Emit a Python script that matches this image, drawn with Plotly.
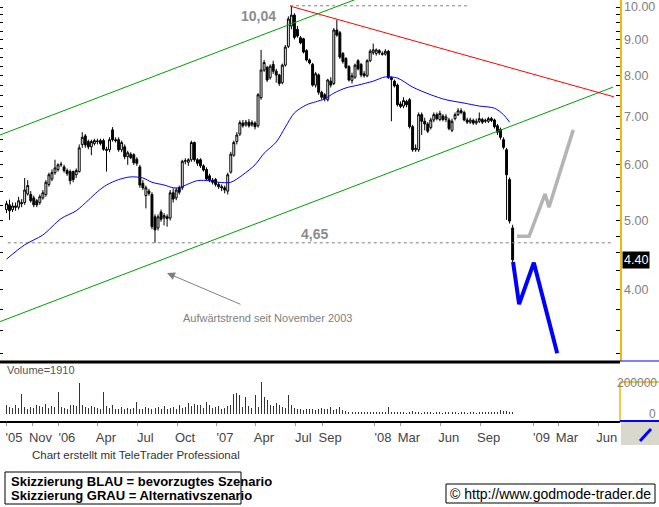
import math
import pandas as pd
import plotly.graph_objects as go

# ---------------- data ----------------
start_week = "2005-09-02"
n_weeks = 168

open_ = [5.18,5.26,5.18,5.24,5.22,5.30,5.30,5.45,5.44,5.38,
         5.33,5.30,5.38,5.44,5.62,5.72,5.84,5.90,5.99,5.95,
         5.88,5.86,5.86,5.80,5.86,6.40,6.58,6.46,6.35,6.42,
         6.46,6.48,6.48,6.30,6.29,6.71,6.50,6.50,6.29,6.35,
         6.15,6.20,6.19,6.10,5.95,5.64,5.42,5.50,5.44,5.06,
         4.88,5.14,5.04,5.06,5.04,5.47,5.38,5.56,5.56,6.06,
         6.04,6.09,6.44,6.09,6.09,5.97,5.90,5.78,5.70,5.71,
         5.62,5.58,5.56,5.50,5.85,6.18,6.46,6.62,6.86,6.82,
         6.88,6.82,6.86,6.80,7.45,8.15,8.22,7.95,8.30,8.12,
         8.02,7.82,8.28,8.80,9.40,9.74,9.30,9.05,9.02,8.68,
         8.42,8.30,7.76,8.02,7.58,7.52,7.40,7.86,7.80,9.28,
         9.20,8.60,8.46,8.24,7.88,7.96,8.40,8.30,8.05,8.00,
         8.40,8.62,8.60,8.68,8.60,8.58,8.66,7.95,7.86,7.76,
         7.30,7.25,7.36,7.40,6.78,6.29,6.29,7.05,6.90,6.84,
         6.76,6.93,7.05,6.94,7.02,6.94,6.93,6.70,6.96,7.05,
         7.14,7.10,6.93,6.88,6.92,6.86,6.90,6.94,6.90,6.90,
         6.96,6.93,6.80,6.72,6.50,6.29,5.71,4.88]
high = [5.33,5.35,5.30,5.30,5.40,5.36,5.74,5.70,5.50,5.42,
        5.36,5.44,5.52,5.70,5.84,5.90,6.09,6.02,6.05,5.99,
        5.92,5.90,5.88,5.92,6.40,6.66,6.62,6.50,6.50,6.52,
        6.52,6.52,6.52,6.35,6.55,6.77,6.55,6.55,6.48,6.40,
        6.27,6.24,6.22,6.14,5.99,5.70,5.60,5.54,5.48,5.10,
        5.10,5.18,5.12,5.10,5.52,5.55,5.56,5.60,6.09,6.12,
        6.12,6.48,6.46,6.12,6.12,6.00,5.94,5.82,5.74,5.74,
        5.66,5.62,5.60,5.84,6.25,6.48,6.66,6.92,6.93,6.93,
        6.95,6.92,6.90,7.56,8.70,8.42,8.26,8.30,8.40,8.18,
        8.05,8.32,8.84,9.70,10.04,9.80,9.40,9.10,9.05,8.72,
        8.46,8.34,8.10,8.06,7.62,7.56,7.92,7.96,9.34,9.59,
        9.25,8.64,8.50,8.28,8.08,8.32,8.44,8.34,8.12,8.44,
        8.72,8.88,8.74,8.72,8.66,8.72,8.70,7.98,7.90,7.80,
        7.36,7.46,7.40,7.44,6.82,6.40,7.10,7.10,6.98,6.88,
        6.98,7.10,7.10,7.14,7.06,7.06,6.98,6.96,7.10,7.20,
        7.20,7.14,6.98,6.98,6.96,6.96,7.10,6.98,6.96,7.00,
        7.00,6.96,6.84,6.76,6.55,6.33,5.75,4.93]
low = [5.12,5.01,5.14,5.16,5.18,5.22,5.26,5.42,5.30,5.22,
       5.22,5.26,5.35,5.40,5.58,5.68,5.80,5.86,5.95,5.84,
       5.78,5.62,5.66,5.74,5.84,6.33,6.33,6.30,6.18,6.38,
       6.40,6.38,6.27,5.86,6.24,6.46,6.44,6.25,6.24,6.10,
       5.99,6.10,5.99,5.97,5.56,5.52,5.20,5.42,4.86,4.65,
       4.84,4.98,4.92,4.90,5.00,5.30,5.34,5.44,5.52,6.00,
       5.97,6.05,6.05,5.97,5.93,5.86,5.70,5.66,5.62,5.58,
       5.54,5.50,5.46,5.44,5.82,6.15,6.40,6.58,6.76,6.78,
       6.76,6.78,6.72,6.76,7.40,8.10,7.84,7.90,8.05,7.82,
       7.74,7.78,8.24,8.75,9.30,9.00,9.05,8.86,8.60,8.38,
       8.30,7.72,7.70,7.52,7.40,7.36,7.36,7.70,7.76,9.08,
       8.45,8.32,8.18,7.85,7.80,7.92,8.14,7.96,7.95,7.96,
       8.36,8.56,8.54,8.56,8.54,8.54,7.92,6.90,7.70,7.24,
       7.20,7.20,7.22,6.74,6.25,6.25,6.25,6.60,6.70,6.64,
       6.72,6.88,6.92,6.90,6.90,6.88,6.70,6.66,6.92,7.02,
       7.06,6.90,6.84,6.84,6.82,6.82,6.86,6.84,6.86,6.86,
       6.88,6.74,6.60,6.50,6.30,5.01,4.95,4.26]
close = [5.28,5.16,5.24,5.22,5.33,5.28,5.52,5.60,5.33,5.26,
         5.26,5.40,5.47,5.66,5.80,5.84,5.93,5.99,6.00,5.88,
         5.82,5.69,5.71,5.88,6.33,6.55,6.39,6.35,6.46,6.48,
         6.47,6.42,6.30,6.28,6.50,6.50,6.48,6.29,6.44,6.15,
         6.23,6.13,6.03,6.02,5.61,5.56,5.56,5.46,4.90,4.85,
         5.06,5.02,5.08,5.03,5.47,5.36,5.52,5.48,6.06,6.07,
         6.09,6.44,6.09,6.02,5.97,5.89,5.72,5.70,5.66,5.62,
         5.58,5.56,5.52,5.80,6.20,6.44,6.60,6.87,6.80,6.88,
         6.80,6.87,6.78,7.52,8.15,8.35,7.89,8.25,8.12,8.02,
         7.80,8.28,8.78,9.62,9.74,9.06,9.10,8.90,8.64,8.42,
         8.34,7.76,8.05,7.58,7.46,7.42,7.89,7.76,9.28,9.13,
         8.50,8.38,8.22,7.89,8.00,8.28,8.18,8.02,8.00,8.40,
         8.66,8.70,8.70,8.62,8.58,8.66,7.95,7.90,7.74,7.28,
         7.24,7.38,7.28,6.78,6.29,6.32,7.05,6.90,6.84,6.68,
         6.93,7.05,6.96,7.08,6.94,7.00,6.74,6.90,7.05,7.14,
         7.10,6.93,6.88,6.93,6.86,6.90,6.96,6.88,6.92,6.96,
         6.92,6.78,6.66,6.55,6.34,5.80,4.99,4.40]
volume_k = [60,45,40,55,40,130,45,35,45,40,
            55,50,45,65,40,50,45,140,45,40,
            35,55,60,50,200,60,45,40,50,45,
            40,35,145,50,40,55,30,35,45,30,
            40,35,40,75,35,30,45,40,35,40,
            45,35,50,30,40,45,35,60,40,45,
            70,50,65,55,60,40,75,55,40,45,
            50,30,40,50,60,130,135,125,45,110,
            50,40,120,45,205,110,90,55,50,70,
            60,45,40,120,60,40,30,35,25,30,
            30,35,25,30,40,30,35,45,25,30,
            45,25,20,15,12,15,10,12,10,15,
            12,10,15,10,12,10,45,12,10,12,
            10,15,8,12,20,10,12,8,10,10,
            12,8,15,10,8,12,10,15,10,8,
            10,12,8,10,12,8,10,12,10,15,
            12,10,15,25,20,18,15,10]

# moving average (read at selected weeks)
ma_week = [0,6,12,18,23,27,30,33,37,41,45,48,52,55,57,60,63,67,70,74,
           78,82,85,89,92,95,99,102,105,108,112,116,121,125,129,134,140,145,151,156,
           161,164,166]
ma_value = [4.41,4.62,4.77,5.03,5.16,5.34,5.49,5.61,5.71,5.76,5.74,5.66,5.61,5.56,5.56,5.63,5.69,5.69,5.66,5.66,
            5.80,5.99,6.22,6.45,6.77,7.09,7.28,7.35,7.42,7.56,7.69,7.76,7.86,7.97,7.94,7.71,7.52,7.40,7.32,7.25,
            7.20,7.05,6.88]

# trend lines
upper_channel_dates = ["2005-08-18", "2008-01-01"]
upper_channel_price = [6.60, 10.50]
lower_channel_dates = ["2005-08-18", "2009-07-04"]
lower_channel_price = [3.60, 7.71]
red_line_dates = ["2007-06-19", "2009-07-06"]
red_line_price = [10.03, 7.47]

peak_level = 10.04
peak_dates = ["2007-06-19", "2008-08-08"]
support_level = 4.65
support_dates = ["2005-09-05", "2009-07-04"]

# scenarios
blue_dates = ["2008-11-15", "2008-11-29", "2009-01-02", "2009-02-25"]
blue_price = [4.37, 3.81, 4.36, 3.25]
grey_dates = ["2008-11-24", "2008-12-22", "2009-01-28", "2009-02-06", "2009-04-03"]
grey_price = [4.75, 4.75, 5.45, 5.22, 6.71]

last_price = 4.40
volume_label = "Volume=1910"

x_tick_dates = ["2005-09-01","2005-11-01","2006-01-01","2006-04-01","2006-07-01","2006-10-01",
                "2007-01-01","2007-04-01","2007-07-01","2007-09-01","2008-01-01","2008-03-01",
                "2008-06-01","2008-09-01","2009-01-01","2009-03-01","2009-06-01"]
x_tick_text = ["'05","Nov","'06","Apr","Jul","Oct","'07","Apr","Jul","Sep","'08","Mar",
               "Jun","Sep","'09","Mar","Jun"]

price_ticks = [3.25 + 0.25 * k for k in range(28)]
price_tick_text = [f"{v:.2f}" if abs(v - round(v)) < 1e-9 else "" for v in price_ticks]

# ---------------- figure ----------------
dates = pd.date_range(start_week, periods=n_weeks, freq="7D")
volume = [v * 1000 for v in volume_k]
ma_dates = [dates[i] for i in ma_week]

X_RANGE = ["2005-08-18", "2009-07-20"]
Y_RANGE = [math.log10(3.168), math.log10(10.23)]

fig = go.Figure()

fig.add_trace(go.Candlestick(
    x=dates, open=open_, high=high, low=low, close=close,
    increasing=dict(line=dict(color="black", width=1), fillcolor="white"),
    decreasing=dict(line=dict(color="black", width=1), fillcolor="black"),
    whiskerwidth=0, xaxis="x", yaxis="y", hoverinfo="skip", showlegend=False))

line_specs = [
    (upper_channel_dates, upper_channel_price, dict(color="#00a000", width=1)),
    (lower_channel_dates, lower_channel_price, dict(color="#00a000", width=1)),
    (red_line_dates, red_line_price, dict(color="#ff0000", width=1)),
    (peak_dates, [peak_level, peak_level], dict(color="#808080", width=1, dash="dot")),
    (support_dates, [support_level, support_level], dict(color="#808080", width=1, dash="dot")),
]
for xs, ys, ln in line_specs:
    fig.add_trace(go.Scatter(x=xs, y=ys, mode="lines", line=ln, xaxis="x", yaxis="y",
                             hoverinfo="skip", showlegend=False))

fig.add_trace(go.Scatter(x=ma_dates, y=ma_value, mode="lines",
                         line=dict(color="#0000ff", width=1, shape="spline", smoothing=0.8),
                         xaxis="x", yaxis="y", hoverinfo="skip", showlegend=False))

fig.add_trace(go.Scatter(x=grey_dates, y=grey_price, mode="lines",
                         line=dict(color="#b4b4b4", width=3.5),
                         xaxis="x", yaxis="y", hoverinfo="skip", showlegend=False))
fig.add_trace(go.Scatter(x=blue_dates, y=blue_price, mode="lines",
                         line=dict(color="#0000ff", width=4),
                         xaxis="x", yaxis="y", hoverinfo="skip", showlegend=False))

# left-side tick axis (empty trace)
fig.add_trace(go.Scatter(x=[], y=[], xaxis="x", yaxis="y3", showlegend=False))

fig.add_trace(go.Bar(x=dates, y=volume, width=2.3 * 86400000,
                     marker=dict(color="#333333", line=dict(width=0)),
                     xaxis="x2", yaxis="y2", hoverinfo="skip", showlegend=False))

W, H = 659, 507
PW = 620.0
PH = 421.0


def px(xp):
    return xp / PW


def py(yp):
    return (PH - yp) / PH


narrow = "Liberation Sans Narrow, Arial Narrow, sans-serif"
sans = "Liberation Sans, Arial, sans-serif"

fig.update_layout(
    width=W, height=H,
    margin=dict(l=0, r=W - PW, t=0, b=H - PH),
    paper_bgcolor="white", plot_bgcolor="white",
    showlegend=False, hovermode=False, bargap=0, boxgap=0.1,
    xaxis=dict(domain=[0, 1], anchor="y", type="date", range=X_RANGE,
               showticklabels=False, showgrid=False, zeroline=False,
               rangeslider=dict(visible=False), ticks=""),
    xaxis2=dict(domain=[0, 1], anchor="y2", type="date", range=X_RANGE,
                tickmode="array", tickvals=x_tick_dates, ticktext=x_tick_text,
                ticks="outside", ticklen=3, tickcolor="#999999",
                showline=True, linecolor="black", linewidth=2,
                showgrid=False, zeroline=False, ticklabelshift=8,
                tickfont=dict(family=narrow, size=13, color="#444444")),
    yaxis=dict(domain=[py(361), 1], anchor="x", type="log", range=Y_RANGE,
               side="right", tickmode="array", tickvals=price_ticks, ticktext=price_tick_text,
               ticks="inside", ticklen=4, tickcolor="black",
               showline=True, linecolor="#f5b800", linewidth=1.5,
               showgrid=False, zeroline=False,
               tickfont=dict(family=sans, size=12.5, color="#808080")),
    yaxis3=dict(overlaying="y", anchor="x", side="left", type="log", range=Y_RANGE,
                tickmode="array", tickvals=price_ticks, showticklabels=False,
                ticks="inside", ticklen=3, tickcolor="black",
                showline=False, showgrid=False, zeroline=False),
    yaxis2=dict(domain=[0, py(376)], anchor="x2", range=[-45000, 245000],
                side="right", showticklabels=False, showgrid=False, zeroline=False,
                ticks=""),
)

shapes = [
    dict(type="line", xref="paper", yref="paper", x0=0, x1=1, y0=py(362), y1=py(362),
         line=dict(color="black", width=3)),
    dict(type="line", xref="paper", yref="paper", x0=1, x1=px(659), y0=py(361), y1=py(361),
         line=dict(color="#0000ff", width=1)),
    dict(type="line", xref="paper", yref="paper", x0=1, x1=1, y0=py(421), y1=py(382),
         line=dict(color="#f5b800", width=1.5)),
    dict(type="line", xref="paper", yref="paper", x0=1, x1=px(659), y0=py(382), y1=py(382),
         line=dict(color="#f5b800", width=1.5)),
    dict(type="line", xref="paper", yref="paper", x0=1, x1=px(659), y0=py(421), y1=py(421),
         line=dict(color="#0000ff", width=2)),
    dict(type="rect", xref="paper", yref="paper", x0=px(621), x1=px(659), y0=py(445), y1=py(422),
         fillcolor="#d8d8cc", line=dict(width=0)),
    dict(type="line", xref="paper", yref="paper", x0=px(640), x1=px(651), y0=py(441), y1=py(429),
         line=dict(color="#0000ff", width=3)),
    dict(type="rect", xref="paper", yref="paper", x0=px(5), x1=px(241), y0=py(504), y1=py(472),
         line=dict(color="black", width=1)),
    dict(type="rect", xref="paper", yref="paper", x0=px(446), x1=px(655), y0=py(503), y1=py(484),
         line=dict(color="black", width=1)),
]
fig.update_layout(shapes=shapes)


def note(text, x, y, xanchor="center", font=None, **kw):
    d = dict(text=text, xref="paper", yref="paper", x=x, y=y, xanchor=xanchor,
             yanchor="middle", showarrow=False, font=font)
    d.update(kw)
    return d


annotations = [
    note("<b>10,04</b>", px(258), py(16), font=dict(family=sans, size=14, color="#8c8c8c")),
    note("<b>4,65</b>", px(314), py(234), font=dict(family=sans, size=14, color="#8c8c8c")),
    dict(text="", xref="paper", yref="paper", x=px(167), y=py(273), ax=75, ay=32,
         showarrow=True, arrowhead=2, arrowsize=1.6, arrowwidth=1, arrowcolor="#808080"),
    note("Aufwärtstrend seit November 2003", px(267), py(318),
         font=dict(family=sans, size=11, color="#808080")),
    dict(text=f"{last_price:.2f}", xref="paper", yref="y", x=1, y=math.log10(last_price),
         xanchor="left", yanchor="middle", xshift=2, showarrow=False, bgcolor="black", borderpad=1,
         font=dict(family=sans, size=12.5, color="white")),
    dict(text="200000", xref="paper", yref="y2", x=px(659), y=200000, xanchor="right",
         yanchor="middle", showarrow=False, font=dict(family=sans, size=12, color="#808080")),
    dict(text="0", xref="paper", yref="y2", x=px(658), y=0, xanchor="right",
         yanchor="middle", showarrow=False, font=dict(family=sans, size=12, color="#808080")),
    note(volume_label, px(5), py(370), xanchor="left",
         font=dict(family=narrow, size=11, color="#555555")),
    note("Chart erstellt mit TeleTrader Professional", px(30), py(455), xanchor="left",
         font=dict(family=narrow, size=11.5, color="#333333")),
    note("<b>Skizzierung BLAU = bevorzugtes Szenario</b>", px(9), py(481), xanchor="left",
         font=dict(family=narrow, size=13, color="black")),
    note("<b>Skizzierung GRAU = Alternativszenario</b>", px(9), py(496), xanchor="left",
         font=dict(family=narrow, size=13, color="black")),
    note("© http://www.godmode-trader.de", px(550), py(494),
         font=dict(family=narrow, size=14, color="black")),
]
fig.update_layout(annotations=annotations)

fig.write_html("out.html", config={"displayModeBar": False, "staticPlot": True},
               post_script="document.body.style.margin='0px';document.body.style.overflow='hidden';")
